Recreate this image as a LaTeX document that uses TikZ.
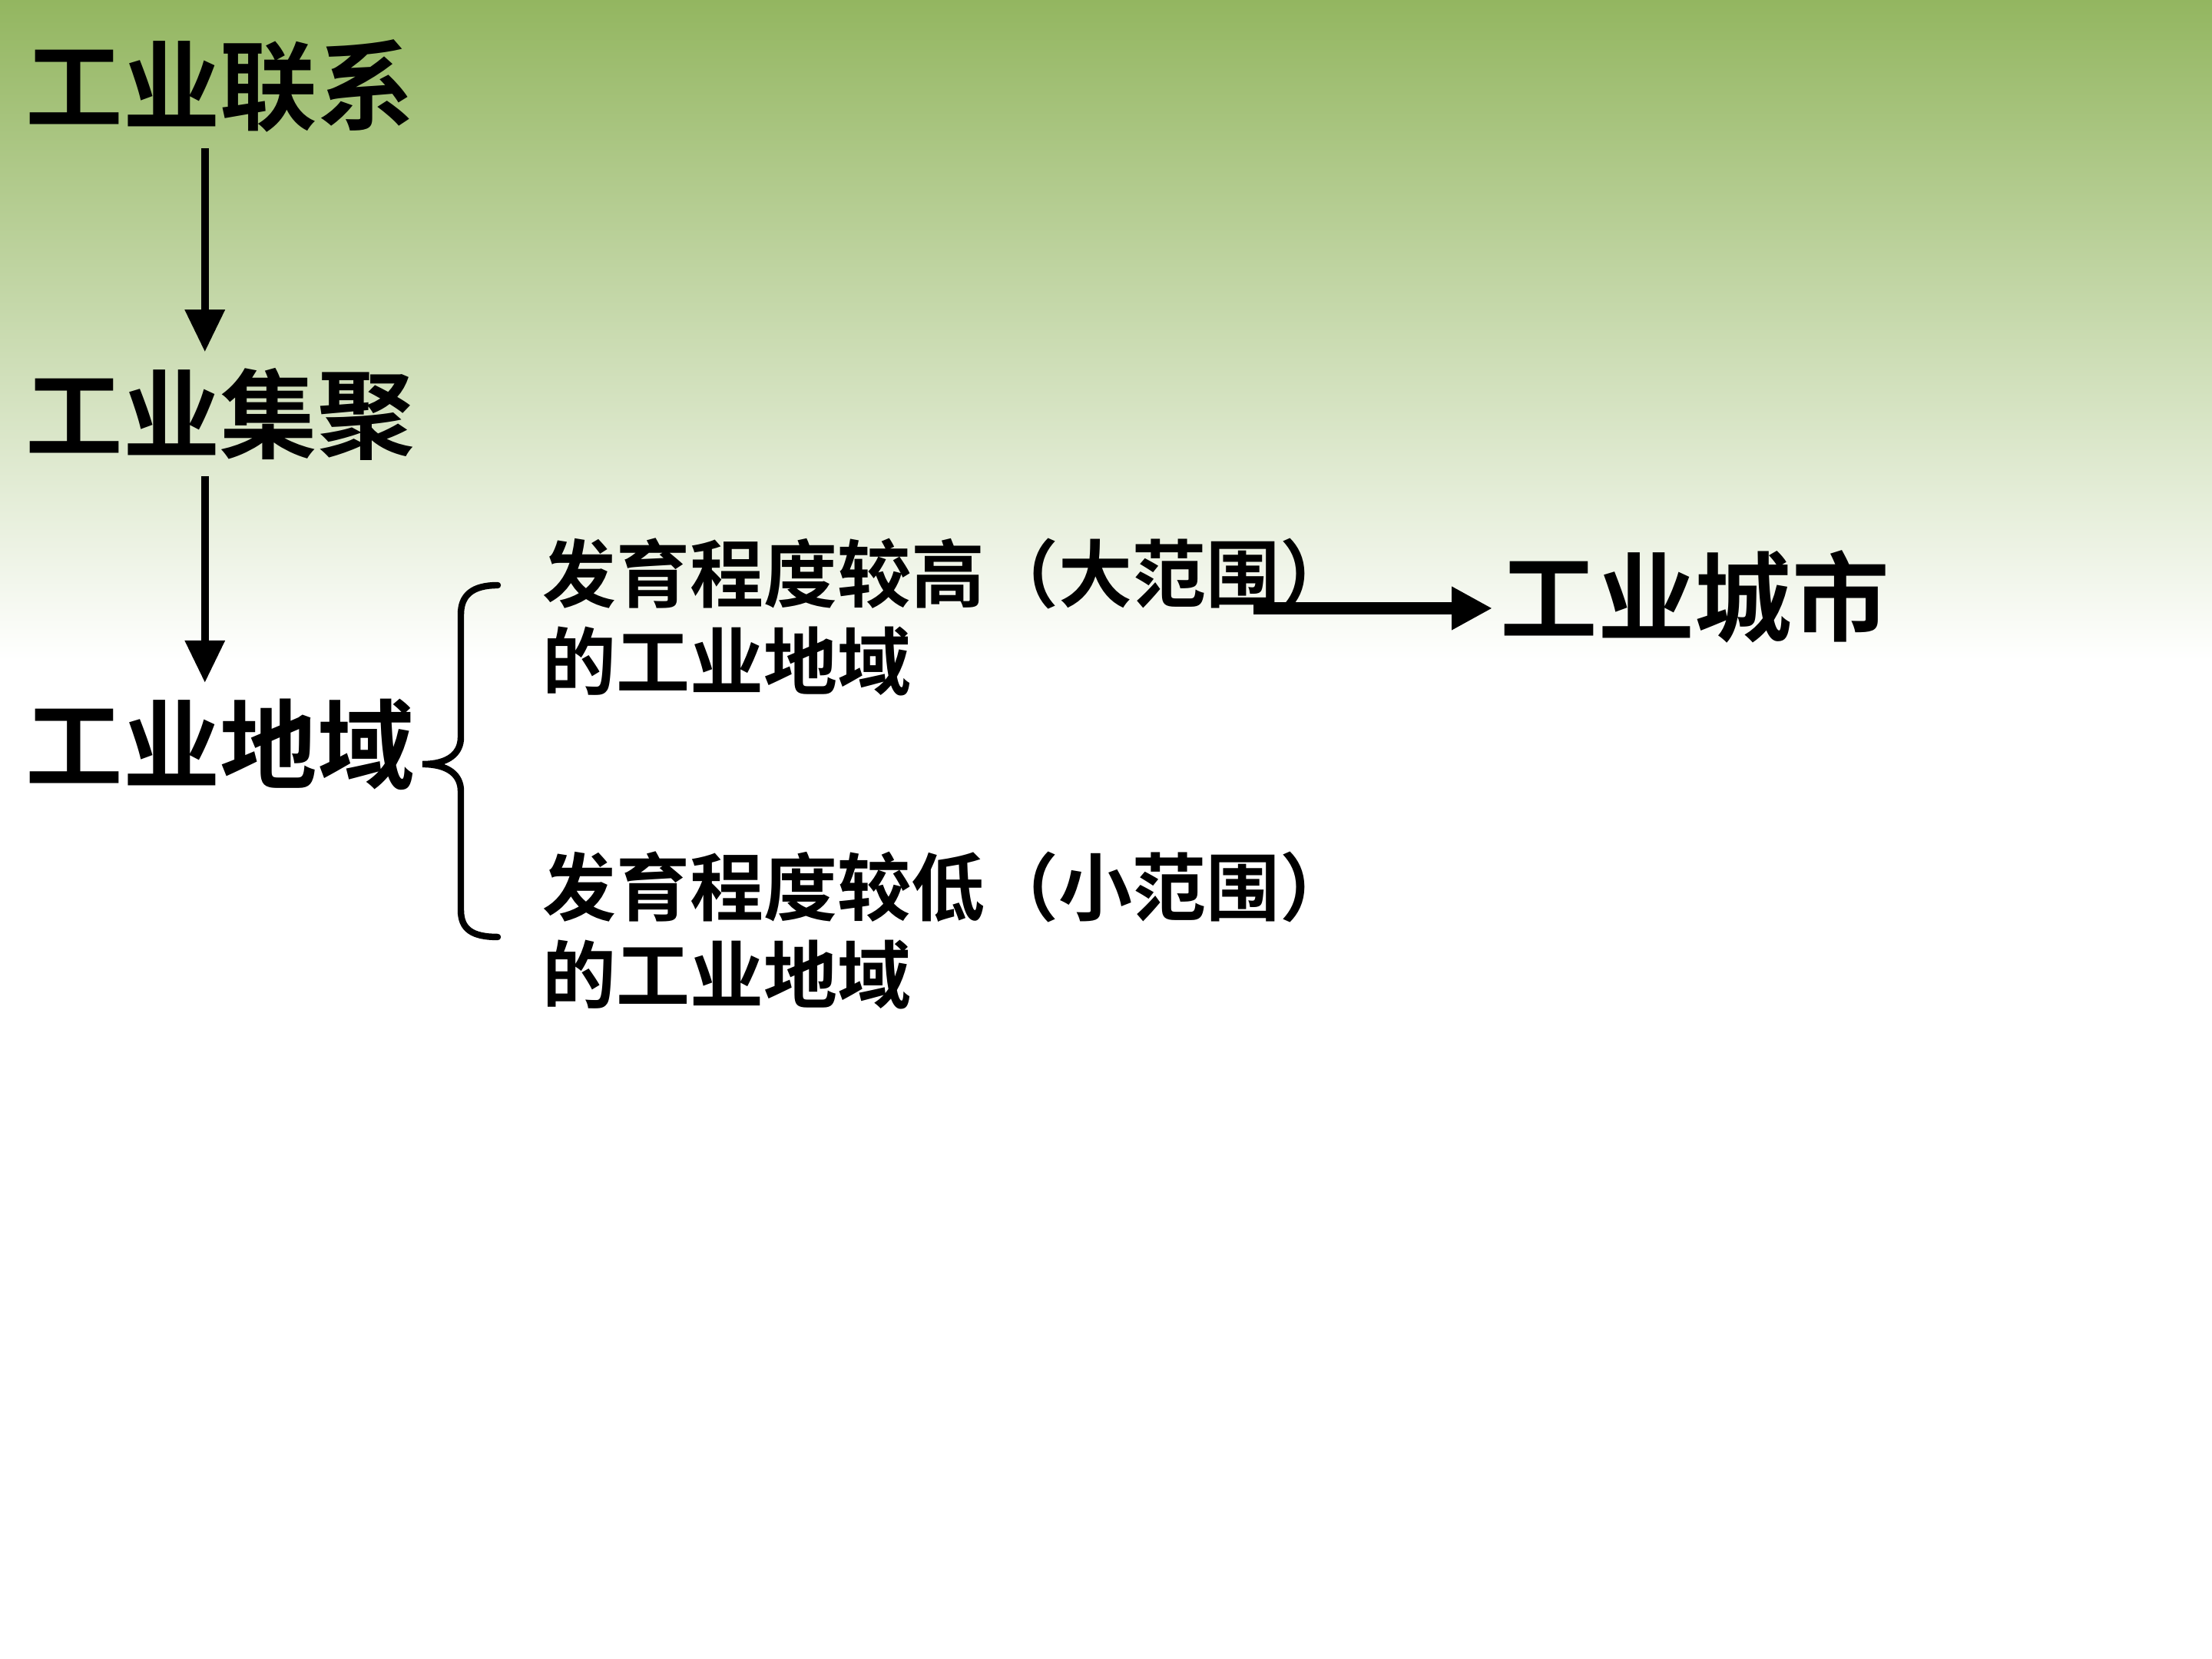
\documentclass[tikz,border=0pt]{standalone}
\usepackage{fontspec}
\setmainfont{Noto Sans CJK SC}[BoldFont={Noto Sans CJK SC Bold}]
\usetikzlibrary{arrows.meta}
\definecolor{leaf}{HTML}{93B660}
\definecolor{haze}{HTML}{CFE0B3}
\tikzset{big/.style={font=\fontsize{36}{40}\selectfont\bfseries,anchor=west,inner sep=0pt},
small/.style={font=\fontsize{27.3}{32.4}\selectfont\bfseries,align=left,anchor=west,inner sep=0pt},
down/.style={-{Triangle[length=5.5mm,width=5mm]},line width=2.8pt},
fat/.style={-{Triangle[length=5.3mm,width=5.3mm]},line width=4.8pt},
brace/.style={line width=2.4pt,line cap=round}}

\begin{document}
\begin{tikzpicture}
\useasboundingbox (0,0) rectangle (28.8,21.6);
% background
\fill[white] (0,0) rectangle (28.8,13.0);
\shade[top color=leaf,middle color=haze,bottom color=white] (0,21.6) rectangle (28.8,13.0);

\node[big] (link) at (0.33,20.48) {工业联系};
\node[big] (cluster) at (0.33,16.21) {工业集聚};
\node[big] (region) at (0.33,11.91) {工业地域};
\node[small] (high) at (7.06,13.57) {发育程度较高（大范围）\\的工业地域};
\node[small] (low) at (7.06,9.49) {发育程度较低（小范围）\\的工业地域};
\node[big] (city) at (19.53,13.83) {工业城市};

\draw[down,shorten <=2mm,shorten >=2mm] ([xshift=-2mm]link.south) -- ([xshift=-2mm]cluster.north);
\draw[down,shorten <=2mm,shorten >=2mm] ([xshift=-2mm]cluster.south) -- ([xshift=-2mm]region.north);

\coordinate (bend) at (16.32,13.68);
\draw[fat,shorten >=1mm] (bend) -- (city.west |- bend);

% brace
\draw[brace] (6.48,13.98) .. controls (6.15,13.98) and (6.0,13.85) .. (6.0,13.6)
 -- (6.0,12.0) .. controls (6.0,11.8) and (5.85,11.65) .. (5.5,11.65)
 .. controls (5.85,11.65) and (6.0,11.5) .. (6.0,11.3)
 -- (6.0,9.75) .. controls (6.0,9.5) and (6.15,9.4) .. (6.48,9.4);
\end{tikzpicture}
\end{document}
